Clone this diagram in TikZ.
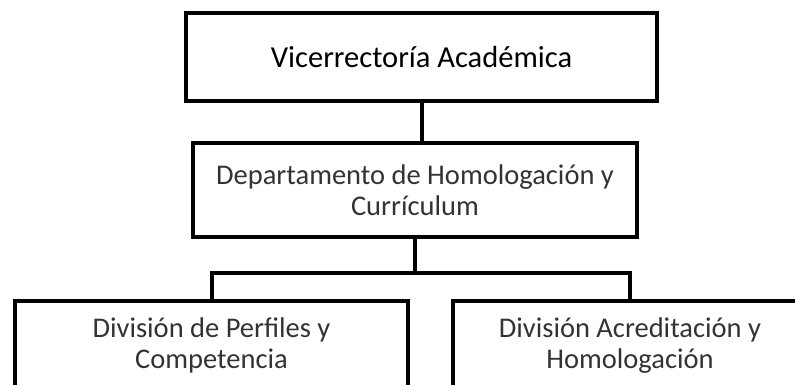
\documentclass[tikz,border=0pt]{standalone}
\usepackage{fontspec}
\setmainfont{Carlito}
\tikzset{caja/.style={draw,line width=4pt,align=center,inner sep=0pt,text=black!80,font=\fontsize{28.5}{31}\selectfont}}

\begin{document}
\begin{tikzpicture}[x=1pt,y=-1pt,line width=4pt]
        \clip (0,0) rectangle (795,384);
        % --- vicerrectoria ---
        \node[caja,minimum width=471pt,minimum height=88pt,text=black,font=\fontsize{30.5}{33}\selectfont] (vra) at (421.5,57) {Vicerrectoría Académica};
        % --- departamento ---
        \node[caja,minimum width=444pt,minimum height=94.5pt] (dhc) at (415,189.75) {Departamento de Homologación y\\ Currículum};
        % --- divisiones (cortadas abajo) ---
        \node[caja,minimum width=393pt,minimum height=90pt] (dpc) at (211.5,345.5) {División de Perfiles y\\ Competencia};
        \node[caja,minimum width=354pt,minimum height=90pt] (dah) at (630,345.5) {División Acreditación y\\ Homologación};
        \coordinate (bus) at (415,272.5);
        \draw (vra.south) -- (vra.south |- dhc.north);
        \draw (dhc.south) -- (bus);
        \draw (dpc.north) |- (bus) -| (dah.north);
    \end{tikzpicture}
\end{document}
